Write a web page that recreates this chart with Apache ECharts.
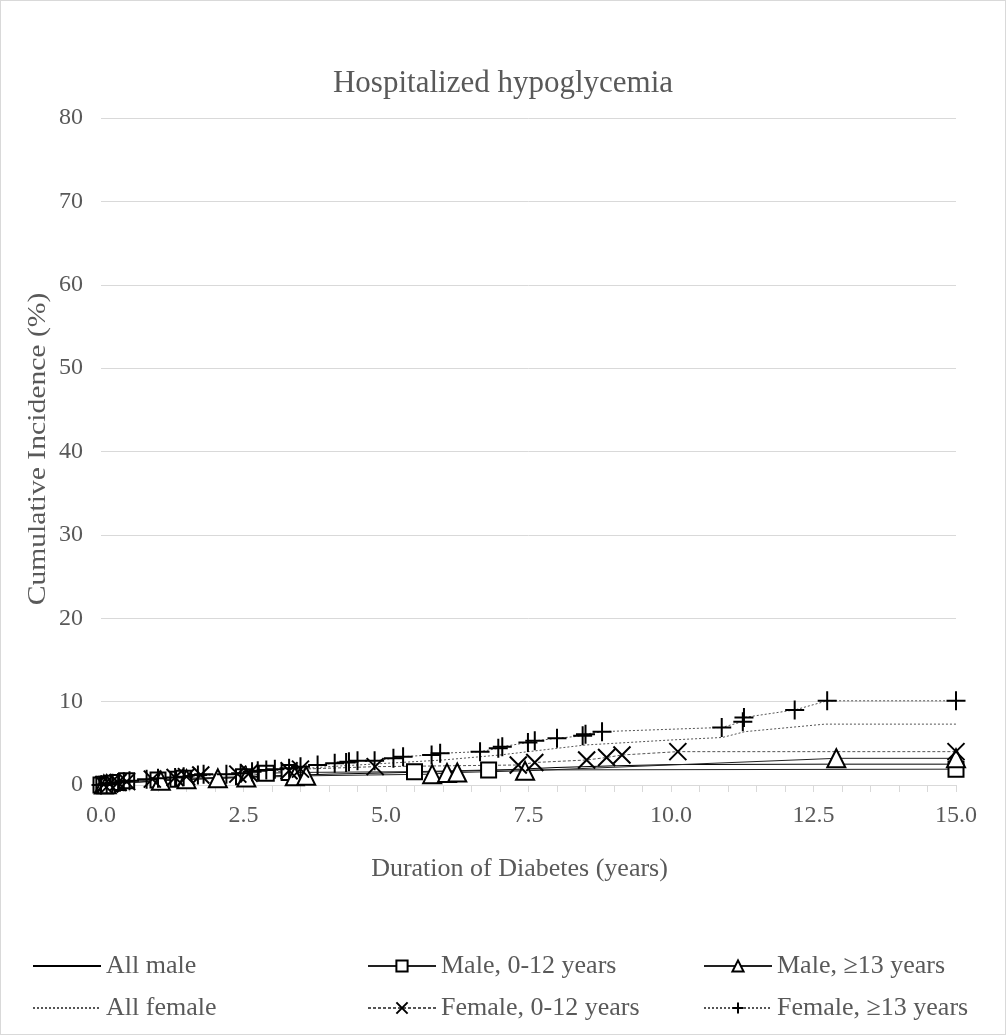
<!DOCTYPE html>
<html>
<head>
<meta charset="utf-8">
<script src="https://cdn.jsdelivr.net/npm/echarts@6/dist/echarts.min.js"></script>
<style>
html,body{margin:0;padding:0;background:#fff;}
#c{width:1006px;height:1035px;box-sizing:border-box;border:1px solid #d9d9d9;}
</style>
</head>
<body>
<div id="c"></div>
<script>
// ---- Data (x = years, y = cumulative incidence %) ----
var xTicks = [0, 2.5, 5, 7.5, 10, 12.5, 15];
var seriesNames = ['All male', 'Male, 0-12 years', 'Male, \u226513 years', 'All female', 'Female, 0-12 years', 'Female, \u226513 years'];

var allMale = [[0,0],[0.5,0.3],[1,0.5],[2,0.8],[3,1.1],[4,1.3],[5,1.45],[6,1.6],[7,1.8],[8,2.1],[9,2.3],[10,2.45],[12.75,2.5],[15,2.5]];
var male012 = [[0,0],[0.05,0.1],[0.1,0.1],[0.2,0.2],[0.3,0.3],[0.45,0.5],[1.0,0.6],[1.35,0.7],[1.45,0.8],[2.5,1.0],[2.9,1.4],[3.3,1.5],[5.5,1.6],[6.8,1.8],[15,1.9]];
var male13 = [[0.05,0.05],[0.1,0.1],[1.05,0.5],[1.5,0.7],[2.05,0.8],[2.55,0.9],[3.4,1.05],[3.6,1.1],[5.81,1.3],[6.07,1.45],[6.25,1.5],[7.44,1.7],[12.9,3.2],[15,3.2]];
var allFemale = [[0,0],[0.5,0.4],[1,0.7],[2,1.2],[3,1.7],[4,2.2],[5,2.6],[6,3.0],[7,3.6],[7.5,4.0],[8,4.4],[8.5,4.8],[9,5.0],[10,5.4],[10.9,5.7],[11.3,6.4],[12.7,7.3],[15,7.3]];
var female012 = [[0.05,0.05],[0.15,0.1],[0.3,0.3],[0.45,0.4],[0.9,0.7],[1.3,0.9],[1.5,1.0],[1.75,1.2],[2.4,1.3],[2.6,1.4],[3.3,1.7],[3.5,1.9],[4.81,2.2],[7.32,2.4],[7.61,2.7],[8.52,3.0],[8.87,3.3],[9.14,3.6],[10.12,4.0],[15,4.0]];
var female13 = [[0,0],[0.1,0.1],[0.2,0.2],[0.3,0.3],[0.4,0.4],[0.5,0.5],[0.8,0.7],[1.0,0.8],[1.3,0.9],[1.45,1.0],[1.7,1.2],[1.8,1.3],[2.2,1.3],[2.45,1.4],[2.65,1.6],[2.75,1.7],[2.9,1.8],[3.05,1.9],[3.3,2.0],[3.5,2.2],[3.8,2.4],[4.1,2.6],[4.3,2.7],[4.35,2.8],[4.5,2.9],[4.8,2.9],[5.13,3.2],[5.3,3.4],[5.8,3.6],[5.95,3.8],[6.65,4.0],[6.97,4.4],[7.04,4.6],[7.49,5.1],[7.61,5.3],[8.0,5.6],[8.45,5.9],[8.5,6.1],[8.79,6.4],[10.89,6.9],[11.26,7.6],[11.28,8.1],[12.17,9.0],[12.74,10.1],[15,10.1]];

var FONT = 'Liberation Serif';
var TXT = '#595959';
var XPATH = 'path://M0,0L10,10M10,0L0,10';
var PPATH = 'path://M5,0L5,10M0,5L10,5';

var chart = echarts.init(document.getElementById('c'), null, {renderer:'canvas'});

function legendAt(name, left, top, noSymbol) {
  var item = noSymbol ? {name: name, itemStyle: {opacity: 0}} : name;
  return {
    data: [item], left: left, top: top, itemWidth: 68, itemHeight: 14, itemGap: 0,
    textStyle: {fontFamily: FONT, fontSize: 26, color: TXT, padding: [0,0,0,0]},
    padding: 0
  };
}

var option = {
  animation: false,
  backgroundColor: '#fff',
  title: {
    text: 'Hospitalized hypoglycemia', left: 'center', top: 62,
    textStyle: {fontFamily: FONT, fontWeight: 'normal', fontSize: 31, color: TXT}
  },
  graphic: [{
    type: 'text', x: 37, y: 448, rotation: Math.PI / 2, scaleX: 1.14,
    style: {text: 'Cumulative Incidence (%)', font: '26px "Liberation Serif"', fill: TXT,
      align: 'center', verticalAlign: 'middle'}
  }],
  legend: [
    legendAt(seriesNames[0], 31, 952, true),
    legendAt(seriesNames[1], 366, 952),
    legendAt(seriesNames[2], 702, 952),
    legendAt(seriesNames[3], 31, 994, true),
    legendAt(seriesNames[4], 366, 994),
    legendAt(seriesNames[5], 702, 994)
  ],
  grid: {left: 100, right: 49, top: 117, bottom: 249, containLabel: false},
  xAxis: {
    type: 'value', min: 0, max: 15, interval: 2.5,
    name: 'Duration of Diabetes (years)', nameLocation: 'middle', nameGap: 71,
    nameTextStyle: {fontFamily: FONT, fontSize: 26, color: TXT, padding: [0, 18, 0, 0]},
    axisLine: {show: true, lineStyle: {color: '#d9d9d9', width: 1}},
    axisTick: {show: true, length: 7, lineStyle: {color: '#d9d9d9'}},
    minorTick: {show: true, splitNumber: 5, length: 7, lineStyle: {color: '#d9d9d9'}},
    splitLine: {show: false},
    axisLabel: {fontFamily: FONT, fontSize: 24, color: TXT, margin: 19,
      formatter: function (v) { return v.toFixed(1); }}
  },
  yAxis: {
    type: 'value', min: 0, max: 80, interval: 10,
    axisLine: {show: false}, axisTick: {show: false},
    splitLine: {show: true, lineStyle: {color: '#d9d9d9', width: 1}},
    axisLabel: {fontFamily: FONT, fontSize: 24, color: TXT, margin: 18}
  },
  series: [
    {name: seriesNames[0], type: 'line', data: allMale, symbol: 'none',
      lineStyle: {color: '#000', width: 1}, itemStyle: {color: '#000'}},
    {name: seriesNames[1], type: 'line', data: male012, symbol: 'emptyRect', symbolSize: 15, showAllSymbol: true,
      lineStyle: {color: '#222', width: 1}, itemStyle: {color: '#000', borderWidth: 1.5}},
    {name: seriesNames[2], type: 'line', data: male13, symbol: 'emptyTriangle', symbolSize: 18, showAllSymbol: true,
      lineStyle: {color: '#222', width: 1}, itemStyle: {color: '#000', borderWidth: 1.5}},
    {name: seriesNames[3], type: 'line', data: allFemale, symbol: 'none',
      lineStyle: {color: '#555', width: 1, type: [2, 2]}, itemStyle: {color: '#555'}},
    {name: seriesNames[4], type: 'line', data: female012, symbol: XPATH, symbolSize: 17, showAllSymbol: true,
      lineStyle: {color: '#555', width: 1, type: [3, 2]}, itemStyle: {color: '#000', borderColor: '#000', borderWidth: 2}},
    {name: seriesNames[5], type: 'line', data: female13, symbol: PPATH, symbolSize: 19, showAllSymbol: true,
      lineStyle: {color: '#555', width: 1, type: [2, 2]}, itemStyle: {color: '#000', borderColor: '#000', borderWidth: 2}}
  ]
};
chart.setOption(option);
</script>
</body>
</html>
